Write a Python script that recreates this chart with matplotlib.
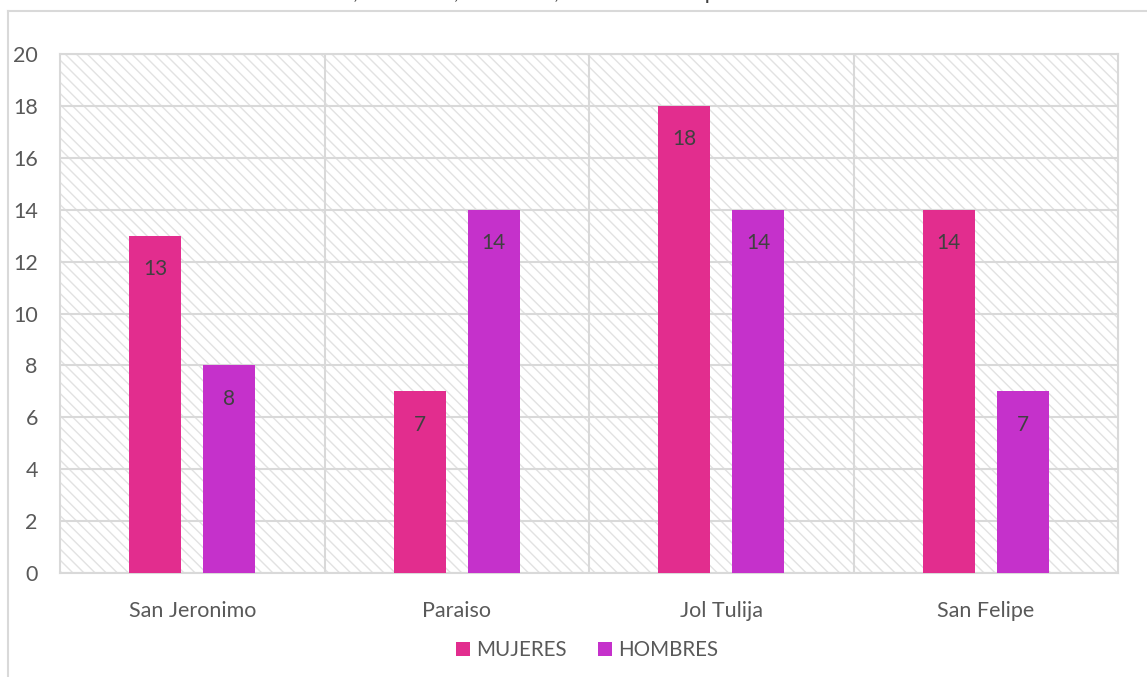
import numpy as np
import matplotlib.pyplot as plt
from matplotlib.patches import Rectangle
from matplotlib.lines import Line2D

plt.rcParams['font.family'] = ['Lato', 'DejaVu Sans']
plt.rcParams['hatch.linewidth'] = 1.0

comunidades = ['San Jeronimo', 'Paraiso', 'Jol Tulija', 'San Felipe']
mujeres = [13, 7, 18, 14]
hombres = [8, 14, 14, 7]
series = ['MUJERES', 'HOMBRES']
colores = ['#E22D8E', '#C531CB']
titulo = 'Asistencia, Hombres, Ancianos, Comunidades por Localidad Rural'

gris = '#d9d9d9'
texto = '#595959'

fig = plt.figure(figsize=(11.47, 6.77), dpi=100)
ax = fig.add_axes([60/1147, 104/677, 1058/1147, 519/677])

# fondo rayado del area de trazado
ax.add_patch(Rectangle((0, 0), 1, 1, transform=ax.transAxes, facecolor='white',
                       edgecolor='#e2e2e2', hatch='\\\\\\', lw=0, zorder=0))

x = np.arange(len(comunidades))
ancho = 0.197
desp = 0.14
for vals, sig, col, nom in [(mujeres, -1, colores[0], series[0]),
                            (hombres, 1, colores[1], series[1])]:
    barras = ax.bar(x + sig * desp, vals, ancho, color=col, label=nom, zorder=3)
    for b, v in zip(barras, vals):
        ax.annotate(str(v), (b.get_x() + b.get_width() / 2, v),
                    xytext=(0, -24), textcoords='offset points',
                    ha='center', va='center', fontsize=15, color='#404040', zorder=4)

ax.set_xlim(-0.5, len(comunidades) - 0.5)
ax.set_ylim(0, 20)
ax.set_yticks(range(0, 21, 2))
ax.set_xticks(x)
ax.set_xticklabels(comunidades)
ax.yaxis.grid(True, color=gris, lw=1.5, zorder=1)
for xv in x[:-1] + 0.5:
    ax.axvline(xv, color=gris, lw=1.5, zorder=1)
ax.set_axisbelow(True)
for s in ax.spines.values():
    s.set_color(gris)
    s.set_linewidth(1.5)
ax.tick_params(length=0, labelsize=15.5, labelcolor=texto)
ax.tick_params(axis='x', pad=20)
ax.tick_params(axis='y', pad=16)

leg = ax.legend(loc='center', bbox_to_anchor=(587/1147, 27/677),
                bbox_transform=fig.transFigure, ncol=2, frameon=False,
                fontsize=14.8, handlelength=0.7, handleheight=0.7,
                handletextpad=0.3, columnspacing=1.5)
for t in leg.get_texts():
    t.set_color(texto)

# marco del grafico
fig.add_artist(Line2D([8/1147, 8/1147], [0, 1 - 11/677], transform=fig.transFigure,
                      color=gris, lw=1.5))
fig.add_artist(Line2D([8/1147, 1], [1 - 11/677, 1 - 11/677], transform=fig.transFigure,
                      color=gris, lw=1.5))

fig.text(574/1147, 1 + 1/677, titulo, ha='center', va='baseline',
         fontsize=16, color='#404040')

fig.savefig('out.png', dpi=100)
